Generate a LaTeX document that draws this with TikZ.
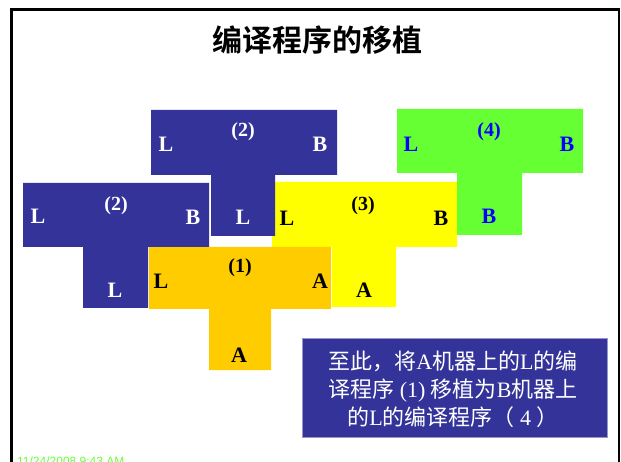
\documentclass[tikz,border=0pt]{standalone}
\usepackage{fontspec}
\setmainfont{Liberation Serif}
\newfontfamily\cjk{Noto Sans CJK SC}
\newfontfamily\cjkbold{Noto Sans CJK SC Bold}
\newfontfamily\datefont{Liberation Sans}
\definecolor{tblue}{RGB}{51,51,153}
\definecolor{torange}{RGB}{255,204,0}
\definecolor{tyellow}{RGB}{255,255,0}
\definecolor{tgreen}{RGB}{102,255,51}
\definecolor{tletblue}{RGB}{0,0,255}
\definecolor{boxedge}{RGB}{150,150,200}
\newcommand\Tpiece[8]{%
  \fill[#1] (#2,#6) -- (#5,#6) -- (#5,#7) -- (#4,#7) -- (#4,#8) -- (#3,#8) -- (#3,#7) -- (#2,#7) -- cycle;}
\begin{document}
\begin{tikzpicture}[x=1pt,y=-1pt,
  lab/.style={inner sep=0pt, font=\fontsize{22}{22}\selectfont\bfseries},
  num/.style={inner sep=0pt, font=\fontsize{20}{20}\selectfont\bfseries}]
\useasboundingbox (0,0) rectangle (621,462);
\begin{scope}
\clip (0,0) rectangle (621,462);
\fill[white] (0,0) rectangle (621,462);
\draw[line width=2.5pt] (11.5,480) -- (11.5,9.5) -- (619,9.5) -- (619,480);
\node[inner sep=0pt, text=tgreen, anchor=base west, font=\datefont\fontsize{12}{12}\selectfont] (date) at (17,465) {11/24/2008 9:43 AM};
\end{scope}
\node[inner sep=0pt, font=\cjkbold\fontsize{30}{30}\selectfont] (title) at (317,40) {编译程序的移植};
% (3) yellow
\Tpiece{tyellow}{272}{332}{396}{457}{182}{247}{307}
% (1) orange
\Tpiece{torange}{149}{209}{271}{331}{247}{309}{370}
% (2) lower blue
\Tpiece{tblue}{23}{83}{148}{209}{183}{247}{308}
% (2) upper blue
\Tpiece{tblue}{151}{211}{275}{337}{110}{175}{236}
% (4) green
\Tpiece{tgreen}{397}{457}{522}{583}{109}{173}{235}
% labels upper blue
\node[lab,text=white] (ubl) at (166,144) {L};
\node[num,text=white] (ubn) at (243,132) {(2)};
\node[lab,text=white] (ubr) at (320,144) {B};
\node[lab,text=white] (ubs) at (243,217) {L};
% lower blue
\node[lab,text=white] (lbl) at (38,216) {L};
\node[num,text=white] (lbn) at (116,206) {(2)};
\node[lab,text=white] (lbr) at (193,217) {B};
\node[lab,text=white] (lbs) at (115,290) {L};
% orange
\node[lab] (ol) at (161,281) {L};
\node[num] (on) at (240,268) {(1)};
\node[lab] (or) at (320,281) {A};
\node[lab] (os) at (239,355) {A};
% yellow
\node[lab] (yl) at (287,218) {L};
\node[num] (yn) at (363,206) {(3)};
\node[lab] (yr) at (441,218) {B};
\node[lab] (ys) at (364,290) {A};
% green
\node[lab,text=tletblue] (gl) at (411,144) {L};
\node[num,text=tletblue] (gn) at (489,132) {(4)};
\node[lab,text=tletblue] (gr) at (567,144) {B};
\node[lab,text=tletblue] (gs) at (489,216) {B};
% note box
\fill[tblue, draw=boxedge, line width=0.6pt] (302,338) rectangle (607,437);
\node[inner sep=0pt, text=white, align=center, font=\fontsize{22}{28}\selectfont] (note) at (453,389)
  {{\cjk 至此，将}A{\cjk 机器上的}L{\cjk 的编}\\
   {\cjk 译程序} (1) {\cjk 移植为}B{\cjk 机器上}\\
   {\cjk 的}L{\cjk 的编译程序（} 4 {\cjk ）}};
\end{tikzpicture}
\end{document}
